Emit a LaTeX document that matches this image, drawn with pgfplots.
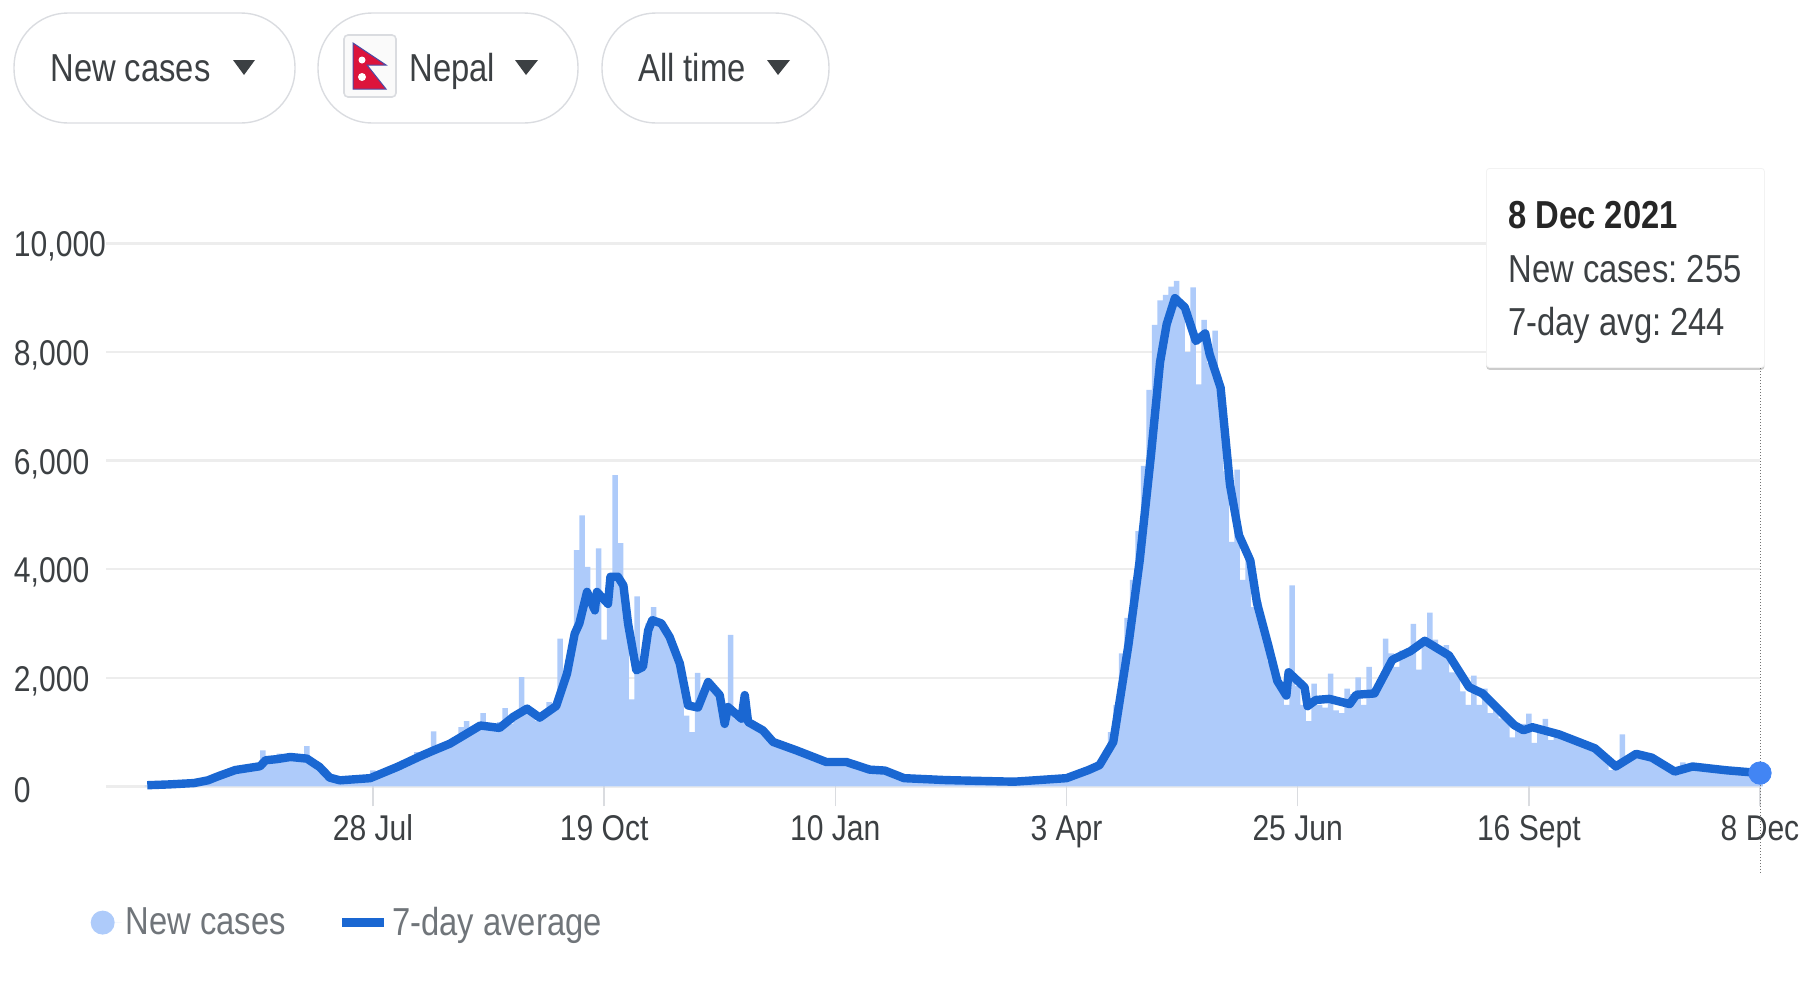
\documentclass[border=0pt]{standalone}
\usepackage{fontspec}
\setmainfont[FakeStretch=0.84]{Liberation Sans}
\usepackage{pgfplots}
\pgfplotsset{compat=1.18}
\usepackage{pgfplotstable}
\usetikzlibrary{shadows}
\frenchspacing

\definecolor{barblue}{HTML}{AECBFA}
\definecolor{lineblue}{HTML}{1A67D2}
\definecolor{dotblue}{HTML}{4285F4}
\definecolor{gridgrey}{HTML}{EDEDED}
\definecolor{tickgrey}{HTML}{DADCE0}
\definecolor{txt}{HTML}{3C4043}
\definecolor{legtxt}{HTML}{70757A}
\definecolor{flagred}{HTML}{DC143C}

% days counted from the start of the series, every second day
\pgfplotstableread{
d v
0 15
2 30
4 35
6 40
8 45
10 40
12 50
14 55
16 60
18 70
20 95
22 130
24 170
26 210
28 260
30 290
32 310
34 320
36 340
38 370
40 400
42 660
44 520
46 560
48 600
50 540
52 590
54 510
56 560
58 740
60 470
62 360
64 270
66 170
68 120
70 100
72 130
74 120
76 150
78 140
80 170
82 295
84 240
86 260
88 300
90 340
92 330
94 390
96 470
98 630
100 520
102 600
104 1010
106 700
108 780
110 800
112 850
114 1090
116 1200
118 1020
120 1100
122 1350
124 1130
126 1060
128 1180
130 1440
132 1150
134 1330
136 2010
138 1500
140 1340
142 1200
144 1350
146 1550
148 1500
150 2720
152 2030
154 2400
156 4350
158 4990
160 4040
162 3200
164 4380
166 2700
168 3700
170 5730
172 4480
174 3500
176 1600
178 3500
180 2240
182 3000
184 3300
186 3000
188 2950
190 2700
192 2550
194 2300
196 1300
198 1000
200 2090
202 1700
204 1950
206 1800
208 1650
210 1100
212 2790
214 1250
216 1350
218 1250
220 1120
222 1050
224 1000
226 900
228 800
230 760
232 700
234 680
236 650
238 620
240 590
242 540
244 500
246 470
248 480
250 450
252 440
254 450
256 400
258 380
260 340
262 310
264 320
266 300
268 280
270 240
272 190
274 150
276 140
278 130
280 130
282 120
284 120
286 110
288 110
290 100
292 105
294 100
296 100
298 95
300 100
302 95
304 90
306 90
308 85
310 85
312 80
314 75
316 80
318 85
320 90
322 110
324 120
326 125
328 130
330 130
332 140
334 150
336 170
338 210
340 250
342 300
344 360
346 450
348 570
350 1000
352 1500
354 2450
356 3100
358 3800
360 4700
362 5900
364 7300
366 8500
368 8950
370 9050
372 9200
374 9310
376 8900
378 8000
380 9190
382 7400
384 8590
386 7800
388 8390
390 7000
392 5800
394 4500
396 5830
398 3800
400 4300
402 3300
404 3400
406 2900
408 2300
410 2000
412 1800
414 1500
416 3700
418 1850
420 1500
422 1200
424 1890
426 1500
428 1450
430 2075
432 1400
434 1350
436 1800
438 1700
440 2005
442 1500
444 2200
446 1800
448 1950
450 2720
452 2450
454 2200
456 2500
458 2400
460 2990
462 2150
464 2600
466 3200
468 2700
470 2500
472 2600
474 2100
476 2200
478 1750
480 1500
482 2040
484 1500
486 1800
488 1350
490 1480
492 1250
494 1220
496 900
498 1050
500 1150
502 1340
504 800
506 1000
508 1240
510 850
512 1000
514 900
516 900
518 820
520 800
522 760
524 730
526 700
528 620
530 520
532 300
534 360
536 955
538 480
540 620
542 600
544 570
546 540
548 480
550 420
552 340
554 260
556 220
558 440
560 340
562 380
564 350
566 320
568 330
570 300
572 290
574 280
576 260
578 270
580 250
582 240
584 230
586 255
}\newcases

\pgfplotstableread{
d v
0 20
8 35
17 60
22 110
26 190
32 300
41 370
43 480
47 500
52 540
58 510
62.6 356
66.3 160
70 110
81 150
91 360
99 550
104 660
110 786
121 1120
128 1075
133 1280
138 1430
142.6 1265
148.6 1480
152.5 2075
155.3 2810
157 3000
159.8 3580
162.6 3240
163.4 3580
167.4 3360
168.3 3860
171 3860
173 3700
174.7 2996
177.7 2137
180.1 2200
182 2870
183.5 3060
186.8 3000
189.8 2750
193.5 2260
196.5 1490
200.1 1450
203.8 1920
208 1680
209.8 1150
211 1460
215.9 1246
217.1 1680
218.3 1185
223.7 1030
227.4 817
235.8 663
246.7 448
254 448
262.5 307
268 290
275 150
290 115
302 100
315 85
334 150
342 300
346 390
351 816
356.5 2600
360.6 4157
364.7 6100
368 7810
370.4 8510
373.4 8990
377 8820
381 8200
384.4 8340
386 7960
390 7340
393.4 5555
396.7 4620
400.8 4157
403.2 3380
407.3 2600
410.6 1940
413.9 1670
414.7 2100
420.5 1825
421.6 1476
424.6 1590
429.5 1610
436.9 1515
439.3 1686
445.9 1710
452.4 2330
459 2490
464.2 2680
473 2410
480.3 1825
485.2 1710
496.7 1127
500 1033
503.3 1088
513 956
526 700
533.6 365
541 598
546.7 528
555 272
561.5 365
573.8 295
586 244
}\sevenday

\begin{document}
\begin{tikzpicture}
\path[use as bounding box] (0pt,0pt) rectangle (904pt,-490pt);

\begin{axis}[
  at={(53pt,-393.15pt)}, anchor=south west,
  scale only axis, width=827pt, height=271.5pt,
  xmin=-15, xmax=586, ymin=0, ymax=10000,
  clip=false,
  axis line style={draw=none},
  ytick={0,2000,...,10000},
  scaled y ticks=false,
  ymajorgrids, grid style={gridgrey, line width=1.2pt},
  ytick style={draw=none},
  xtick={82,166,250,334,418,502,586},
  xticklabels={28 Jul,19 Oct,10 Jan,3 Apr,25 Jun,16 Sept,8 Dec},
  xtick style={tickgrey, line width=0.8pt},
  xtick pos=bottom, tick align=outside, major tick length=10pt,
  /pgf/number format/assume math mode=true,
  /pgf/number format/1000 sep={,},
  tick label style={font=\fontsize{17.9}{20}\selectfont, text=txt},
  yticklabel style={anchor=west, xshift=-36.2pt, yshift=-1.7pt, inner sep=0pt},
  xticklabel style={anchor=base, yshift=-17pt, inner sep=0pt},
  legend style={draw=none, fill=none, at={(-0.0095,-0.251)}, anchor=west,
    legend columns=2, font=\fontsize{19.5}{22}\selectfont,
    text=legtxt, inner sep=0pt,
    /tikz/every even column/.append style={column sep=24pt}},
  legend cell align=left,
]
\addplot[ybar, bar width=2, bar shift=0pt, fill=barblue, draw=none,
  legend image code/.code={\fill[barblue] (0pt,0pt) circle (6pt); \path (0pt,0pt) -- (9.5pt,0pt);}]
  table[x=d, y=v] {\newcases};
\addlegendentry{New cases}
\addplot[lineblue, line width=4.2pt, line join=round,
  legend image code/.code={\draw[lineblue, line width=2pt] (0pt,0pt) -- (15pt,0pt); \path (0pt,0pt) -- (21pt,0pt);}]
  table[x=d, y=v] {\sevenday};
\addlegendentry{7-day average}
\addplot[forget plot, black!55, line width=0.5pt, densely dotted]
  coordinates {(586,-1590) (586,7730)};
\addplot[forget plot, only marks, mark=*, mark size=5.6pt,
  mark options={fill=dotblue, draw=dotblue}]
  coordinates {(586,244)};
\end{axis}

\begin{scope}[x=0.5pt,y=-0.5pt]
% dropdown pills
\draw[tickgrey, line width=0.7pt, rounded corners=27pt] (14,13) rectangle (295,123);
\draw[tickgrey, line width=0.7pt, rounded corners=27pt] (318,13) rectangle (578,123);
\draw[tickgrey, line width=0.7pt, rounded corners=27pt] (602,13) rectangle (829,123);
\node[anchor=base west, inner sep=0pt, text=txt, font=\fontsize{19.5}{22}\selectfont] at (50,81) {New cases};
\node[anchor=base west, inner sep=0pt, text=txt, font=\fontsize{19.5}{22}\selectfont] at (409,81) {Nepal};
\node[anchor=base west, inner sep=0pt, text=txt, font=\fontsize{19.5}{22}\selectfont] at (638,81) {All time};
\fill[txt] (233,60) -- (255,60) -- (244,75) -- cycle;
\fill[txt] (515,60) -- (538,60) -- (526,75) -- cycle;
\fill[txt] (767,60) -- (790,60) -- (778,75) -- cycle;

% flag
\draw[tickgrey, line width=0.8pt, fill=black!2, rounded corners=2pt] (344,35) rectangle (396,97);
\filldraw[fill=flagred, draw=blue!50!black!70, line width=0.5pt]
  (353,43) -- (386,65) -- (367,65) -- (386,89) -- (353,89) -- cycle;
\fill[white] (362,60) circle (3.5);
\fill[white] (362,77) circle (4);

% tooltip
\node[fill=white, draw=black!5, line width=0.4pt, rounded corners=1.5pt, minimum width=139pt, minimum height=99.5pt,
  anchor=north west, inner sep=0pt, drop shadow={opacity=0.4, shadow xshift=0pt, shadow yshift=-1.2pt}]
  at (1486,168) {};
\node[anchor=base west, inner sep=0pt, text=black!85, font=\fontsize{19.5}{22}\selectfont\bfseries] at (1508,228) {8 Dec 2021};
\node[anchor=base west, inner sep=0pt, text=txt, font=\fontsize{19.5}{22}\selectfont] at (1508,282) {New cases: 255};
\node[anchor=base west, inner sep=0pt, text=txt, font=\fontsize{19.5}{22}\selectfont] at (1508,335) {7-day avg: 244};
\end{scope}
\end{tikzpicture}
\end{document}
